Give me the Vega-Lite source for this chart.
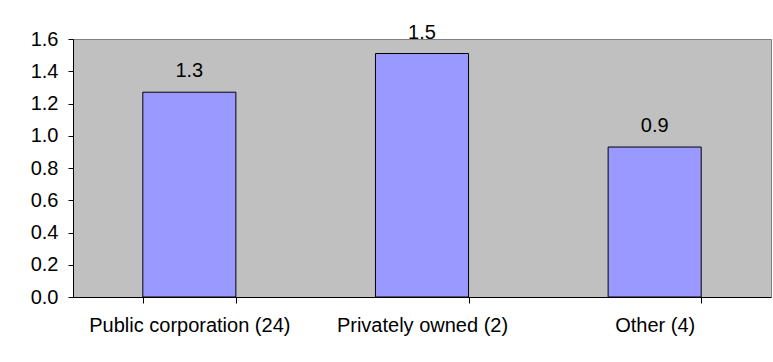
{
  "$schema": "https://vega.github.io/schema/vega-lite/v6.json",
  "autosize": {"type": "none"},
  "padding": {"left": 73, "top": 39, "right": 2, "bottom": 65},
  "width": 698,
  "height": 258,
  "background": "white",
  "config": {
    "view": {"fill": "#C0C0C0", "stroke": "#808080", "strokeWidth": 1},
    "font": "Liberation Sans, Arial"
  },
  "data": {
    "values": [
      {"category": "Public corporation (24)", "value": 1.27},
      {"category": "Privately owned (2)", "value": 1.51},
      {"category": "Other (4)", "value": 0.93}
    ]
  },
  "encoding": {
    "x": {
      "field": "category",
      "type": "nominal",
      "sort": null,
      "scale": {"paddingInner": 0.6, "paddingOuter": 0.3},
      "axis": {
        "title": null,
        "labelAngle": 0,
        "labelFontSize": 20,
        "labelLimit": 0,
        "labelColor": "black",
        "labelPadding": 12,
        "domainColor": "black",
        "tickColor": "black",
        "tickSize": 6,
        "tickBand": "extent",
        "zindex": 1
      }
    },
    "y": {
      "field": "value",
      "type": "quantitative",
      "scale": {"domain": [0, 1.6], "nice": false},
      "axis": {
        "title": null,
        "values": [0, 0.2, 0.4, 0.6, 0.8, 1.0, 1.2, 1.4, 1.6],
        "format": ".1f",
        "grid": false,
        "labelFontSize": 20,
        "labelColor": "black",
        "labelPadding": 10,
        "domainColor": "black",
        "tickColor": "black",
        "tickSize": 5,
        "zindex": 1
      }
    }
  },
  "layer": [
    {
      "mark": {"type": "bar", "fill": "#9999FF", "stroke": "black", "strokeWidth": 1}
    },
    {
      "mark": {"type": "text", "baseline": "alphabetic", "dy": -15, "fontSize": 20, "color": "black"},
      "encoding": {
        "text": {"field": "value", "type": "quantitative", "format": ".1f"}
      }
    }
  ]
}
